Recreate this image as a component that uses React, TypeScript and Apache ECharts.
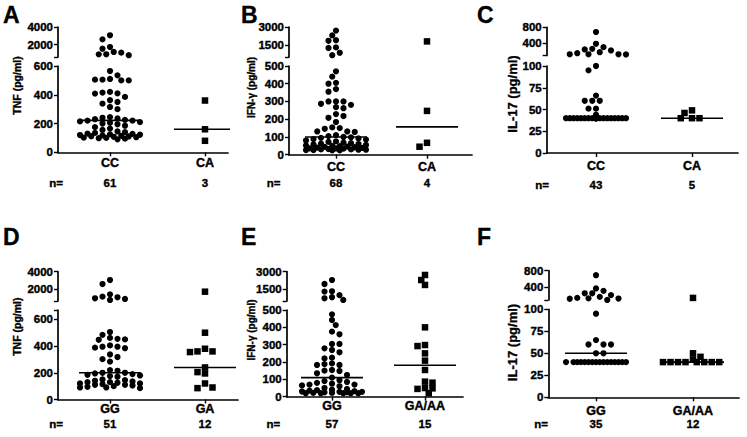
import React, { useEffect, useRef } from 'react';
import * as echarts from 'echarts';

const FONT = "'Liberation Sans', Arial, Helvetica, sans-serif";

// ---------------- Data ----------------
// Panel A : TNF, CC vs CA
const catsA = ['CC', 'CA'];
const tnfCC_A = [3060, 2600, 1730, 1540, 1170, 1090, 910, 900, 800,
  565, 535, 510, 505, 500, 500, 505, 420, 415, 410, 408, 385, 362, 350, 338, 315, 300,
  245, 240, 235, 230, 225, 220, 220, 215, 210, 205, 200, 195, 185, 175, 165, 155, 145, 140, 135, 130,
  128, 125, 122, 120, 118, 115, 112, 110, 108, 105, 102, 100, 98, 95, 90];
const tnfCA_A = [360, 160, 80];
const medA = [222, 160];

// Panel B : IFN-γ, CC vs CA
const catsB = ['CC', 'CA'];
const ifnCC_B = [2700, 2300, 1900, 1850, 1300, 1250, 850, 650,
  470, 440, 405, 400, 370, 355, 300, 300, 300, 287, 281, 268, 262, 229, 218, 208, 184, 154, 150, 146, 131, 131, 128,
  110, 105, 100, 98, 95, 92, 88, 85, 80, 75, 72, 68, 65, 62, 60, 58, 55, 52, 50, 48, 46, 44, 42, 40, 38, 36, 35, 34,
  32, 30, 30, 28, 28, 26, 26, 25, 25];
const ifnCA_B = [1800, 247, 67, 45];
const medB = [100, 157];

// Panel C : IL-17, CC vs CA
const catsC = ['CC', 'CA'];
const il17CC_C = [682, 391, 307, 265, 250, 225, 182, 157, 130, 130, 130, 125,
  100, 95, 66, 60, 60, 60, 51, 51, 44,
  40, 40, 40, 40, 40, 40, 40, 40, 40, 40, 40, 40, 40, 40, 40, 40, 40, 40, 40, 40, 40, 40];
const il17CA_C = [49, 46, 40, 40, 40];
const medC = [40, 40];

// Panel D : TNF, GG vs GA
const catsD = ['GG', 'GA'];
const tnfGG_D = [3050, 2600, 1430, 1160, 1090, 980, 900, 785,
  505, 484, 461, 454, 450, 447, 405, 395, 395, 388, 384, 337, 318, 302, 284,
  220, 215, 200, 200, 195, 190, 185, 180, 175, 170, 150, 145, 140, 135, 130, 130, 125, 120, 120, 115,
  110, 110, 105, 100, 95, 90, 90, 85];
const tnfGA_D = [1730, 500, 380, 360, 360, 355, 240, 205, 195, 120, 90, 85];
const medD = [200, 240];

// Panel E : IFN-γ, GG vs GA/AA
const catsE = ['GG', 'GA/AA'];
const ifnGG_E = [2290, 1950, 1330, 1300, 1000, 820, 730, 590,
  475, 442, 413, 375, 360, 304, 304, 279, 269, 256, 225, 221, 192, 188, 183, 183, 154, 150, 148, 135, 125,
  110, 95, 90, 85, 80, 75, 70, 70, 65, 60, 50, 45, 40, 38, 35, 32, 30, 28, 28, 25, 25, 22, 22, 20, 20, 20, 20, 20];
const ifnGA_E = [2720, 2290, 1870, 400, 298, 292, 250, 208, 154, 87, 81, 50, 48, 45, 20];
const medE = [110, 181];

// Panel F : IL-17, GG vs GA/AA
const catsF = ['GG', 'GA/AA'];
const il17GG_F = [692, 375, 318, 260, 260, 217, 175, 150, 140, 135, 130,
  101, 95, 65, 60, 60, 60, 50, 50,
  40, 40, 40, 40, 40, 40, 40, 40, 40, 40, 40, 40, 40, 40, 40, 40];
const il17GA_F = [150, 50, 46, 43, 40, 40, 40, 40, 40, 40, 40, 40];
const medF = [50, 40];

// Tick labels
const tnfTopTicks = [2000, 4000];
const tnfLowTicks = [0, 200, 400, 600];
const ifnTopTicks = [1500, 3000];
const ifnLowTicks = [0, 100, 200, 300, 400, 500];
const il17TopTicks = [400, 800];
const il17LowTicks = [0, 25, 50, 75, 100];

// ---------------- Layout ----------------
interface Panel {
  letter: string; letterX: number; letterY: number;
  title: string; titleSize: number; titleX: number; titleY: number;
  left: number; right: number; catX: number[];
  topPx: number[]; lowPx: number[];
  topMin: number; topMax: number; lowMax: number;
  topTicks: number[]; lowTicks: number[];
  catMargin: number; nY: number; nX: number;
  cats: string[]; groups: number[][]; medians: number[];
}

const panels: Panel[] = [
  { letter: 'A', letterX: 3, letterY: 14.7, title: 'TNF (pg/ml)', titleSize: 10.5, titleX: 16.7, titleY: 85.5,
    left: 58, right: 228, catX: [110, 205], topPx: [27, 57], lowPx: [66, 152.3],
    topMin: 600, topMax: 4000, lowMax: 600, topTicks: tnfTopTicks, lowTicks: tnfLowTicks,
    catMargin: 4.5, nY: 182.7, nX: 56, cats: catsA, groups: [tnfCC_A, tnfCA_A], medians: medA },
  { letter: 'B', letterX: 241, letterY: 15, title: 'IFN-γ (pg/ml)', titleSize: 10, titleX: 251, titleY: 87.5,
    left: 289, right: 472, catX: [336, 427], topPx: [27, 57], lowPx: [66, 154.7],
    topMin: 500, topMax: 3000, lowMax: 500, topTicks: ifnTopTicks, lowTicks: ifnLowTicks,
    catMargin: 5.8, nY: 182.7, nX: 273.7, cats: catsB, groups: [ifnCC_B, ifnCA_B], medians: medB },
  { letter: 'C', letterX: 477, letterY: 15, title: 'IL-17 (pg/ml)', titleSize: 13, titleX: 512.3, titleY: 94,
    left: 546.7, right: 738, catX: [596, 692], topPx: [27.3, 55.5], lowPx: [66, 153],
    topMin: 100, topMax: 800, lowMax: 100, topTicks: il17TopTicks, lowTicks: il17LowTicks,
    catMargin: 6.5, nY: 185, nX: 542, cats: catsC, groups: [il17CC_C, il17CA_C], medians: medC },
  { letter: 'D', letterX: 3, letterY: 236.5, title: 'TNF (pg/ml)', titleSize: 10.5, titleX: 16.7, titleY: 326.7,
    left: 58, right: 238, catX: [110, 205], topPx: [271.7, 301], lowPx: [310, 399.5],
    topMin: 670, topMax: 4000, lowMax: 670, topTicks: tnfTopTicks, lowTicks: tnfLowTicks,
    catMargin: 3, nY: 424, nX: 56, cats: catsD, groups: [tnfGG_D, tnfGA_D], medians: medD },
  { letter: 'E', letterX: 241, letterY: 236.5, title: 'IFN-γ (pg/ml)', titleSize: 10, titleX: 251, titleY: 330,
    left: 286.7, right: 463, catX: [332, 425], topPx: [271.7, 301], lowPx: [310, 396.7],
    topMin: 500, topMax: 3000, lowMax: 500, topTicks: ifnTopTicks, lowTicks: ifnLowTicks,
    catMargin: 3.1, nY: 424, nX: 273.3, cats: catsE, groups: [ifnGG_E, ifnGA_E], medians: medE },
  { letter: 'F', letterX: 477, letterY: 236.5, title: 'IL-17 (pg/ml)', titleSize: 13, titleX: 512, titleY: 342.5,
    left: 548.3, right: 739, catX: [596, 693], topPx: [270.7, 300], lowPx: [309.3, 397.3],
    topMin: 100, topMax: 800, lowMax: 100, topTicks: il17TopTicks, lowTicks: il17LowTicks,
    catMargin: 7.2, nY: 424, nX: 541, cats: catsF, groups: [il17GG_F, il17GA_F], medians: medF },
];

const DX = 7.5; // horizontal spacing of points in a row (px)
const DY = 5.5; // vertical clearance (px)
const MAX_HALF = 30;
const MED_HALF = 31;

function yPx(p: Panel, v: number): number {
  if (v > p.lowMax) {
    return p.topPx[0] + (p.topMax - v) / (p.topMax - p.topMin) * (p.topPx[1] - p.topPx[0]);
  }
  return p.lowPx[1] - v / p.lowMax * (p.lowPx[1] - p.lowPx[0]);
}

// beeswarm layout: horizontal offsets (px) so that dots do not overlap
function swarm(values: number[], toPx: (v: number) => number): number[] {
  const order = values.map((_, i) => i).sort((a, b) => values[b] - values[a]);
  const placed: { x: number; y: number }[] = [];
  const xs = new Array(values.length).fill(0);
  const step = DX / 2;
  const maxK = Math.floor(MAX_HALF / step);
  order.forEach((i, n) => {
    const y = toPx(values[i]);
    let best = 0;
    let bestScore = -Infinity;
    let found = false;
    const signs = n % 2 === 0 ? [1, -1] : [-1, 1];
    for (let k = 0; k <= maxK && !found; k++) {
      for (const s of (k === 0 ? [1] : signs)) {
        const x = s * k * step;
        let minD = Infinity;
        for (const q of placed) {
          const d = Math.sqrt(((q.x - x) / DX) ** 2 + ((q.y - y) / DY) ** 2);
          if (d < minD) minD = d;
        }
        if (minD >= 0.999) { best = x; found = true; break; }
        if (minD > bestScore + 1e-6) { bestScore = minD; best = x; }
      }
    }
    xs[i] = best;
    placed.push({ x: best, y });
  });
  return xs;
}

function buildOption() {
  const grid: any[] = [];
  const xAxis: any[] = [];
  const yAxis: any[] = [];
  const series: any[] = [];
  const graphic: any[] = [];
  const labelStyle = { color: '#000', fontWeight: 'bold', fontFamily: FONT, textBorderColor: '#000', textBorderWidth: 0.4 };
  const axisLine = { show: true, onZero: false, lineStyle: { color: '#000', width: 1.7 } };

  panels.forEach((p, pi) => {
    const w = p.right - p.left;
    const cx = p.catX.map((c) => c - p.left);
    const gTop = pi * 2;
    const gLow = pi * 2 + 1;
    grid.push({ left: p.left, top: p.topPx[0], width: w, height: p.topPx[1] - p.topPx[0] });
    grid.push({ left: p.left, top: p.lowPx[0], width: w, height: p.lowPx[1] - p.lowPx[0] });

    xAxis.push({ type: 'value', gridIndex: gTop, min: 0, max: w, show: false });
    xAxis.push({
      type: 'value', gridIndex: gLow, min: 0, max: w,
      axisLine,
      splitLine: { show: false },
      axisTick: { show: true, customValues: cx, length: 4, lineStyle: { color: '#000', width: 1.4 } },
      axisLabel: {
        ...labelStyle, fontSize: 12.5, margin: p.catMargin, customValues: cx,
        formatter: (v: number) => (Math.abs(v - cx[0]) < Math.abs(v - cx[1]) ? p.cats[0] : p.cats[1]),
      },
    });
    const topTickVals = [p.topMin, ...p.topTicks];
    const lowTickVals = p.lowTicks.includes(p.lowMax) ? p.lowTicks : [...p.lowTicks, p.lowMax];
    yAxis.push({
      type: 'value', gridIndex: gTop, min: p.topMin, max: p.topMax,
      axisLine, splitLine: { show: false },
      axisTick: { show: true, customValues: topTickVals, length: 4, lineStyle: { color: '#000', width: 1.4 } },
      axisLabel: { ...labelStyle, fontSize: 11.5, margin: 5, customValues: p.topTicks, formatter: (v: number) => String(v) },
    });
    yAxis.push({
      type: 'value', gridIndex: gLow, min: 0, max: p.lowMax,
      axisLine, splitLine: { show: false },
      axisTick: { show: true, customValues: lowTickVals, length: 4, lineStyle: { color: '#000', width: 1.4 } },
      axisLabel: { ...labelStyle, fontSize: 11.5, margin: 5, customValues: p.lowTicks, formatter: (v: number) => String(v) },
    });

    p.groups.forEach((vals, gi) => {
      const offs = swarm(vals, (v) => yPx(p, v));
      const topData: number[][] = [];
      const lowData: number[][] = [];
      vals.forEach((v, i) => {
        const pt = [cx[gi] + offs[i], v];
        if (v > p.lowMax) topData.push(pt); else lowData.push(pt);
      });
      const symbol = gi === 0 ? 'circle' : 'rect';
      const symbolSize = gi === 0 ? 6.2 : 6.5;
      const itemStyle = { color: '#000', opacity: 1 };
      series.push({ type: 'scatter', xAxisIndex: gTop, yAxisIndex: gTop, data: topData, symbol, symbolSize,
        itemStyle, silent: true, clip: false });
      series.push({ type: 'scatter', xAxisIndex: gLow, yAxisIndex: gLow, data: lowData, symbol, symbolSize,
        itemStyle, silent: true, clip: false });
      const m = p.medians[gi];
      const mg = m > p.lowMax ? gTop : gLow;
      series.push({ type: 'line', xAxisIndex: mg, yAxisIndex: mg, symbol: 'none', silent: true, z: 3,
        data: [[cx[gi] - MED_HALF, m], [cx[gi] + MED_HALF, m]],
        lineStyle: { color: '#000', width: 1.6 } });
    });

    const txt = { fill: '#000', fontWeight: 'bold', fontFamily: FONT, stroke: '#000', lineWidth: 0.35 };
    graphic.push({ type: 'text', x: p.letterX, y: p.letterY, silent: true,
      style: { ...txt, text: p.letter, fontSize: 23, align: 'left', verticalAlign: 'middle' } });
    graphic.push({ type: 'text', x: p.titleX, y: p.titleY, rotation: Math.PI / 2, silent: true,
      style: { ...txt, text: p.title, fontSize: p.titleSize, align: 'center', verticalAlign: 'middle' } });
    graphic.push({ type: 'text', x: p.nX, y: p.nY, silent: true,
      style: { ...txt, text: 'n=', fontSize: 11.5, align: 'center', verticalAlign: 'middle' } });
    p.groups.forEach((vals, gi) => {
      graphic.push({ type: 'text', x: p.catX[gi], y: p.nY, silent: true,
        style: { ...txt, text: String(vals.length), fontSize: 11.5, align: 'center', verticalAlign: 'middle' } });
    });
  });

  return { animation: false, backgroundColor: '#fff', grid, xAxis, yAxis, series, graphic };
}

export default function App() {
  const ref = useRef<HTMLDivElement>(null);
  useEffect(() => {
    if (!ref.current) return;
    const chart = echarts.init(ref.current, null, { renderer: 'svg' });
    chart.setOption(buildOption() as any);
    return () => chart.dispose();
  }, []);
  return (
    <div
      ref={ref}
      style={{ position: 'fixed', left: 0, top: 0, width: 747, height: 437, background: '#fff' }}
    />
  );
}
